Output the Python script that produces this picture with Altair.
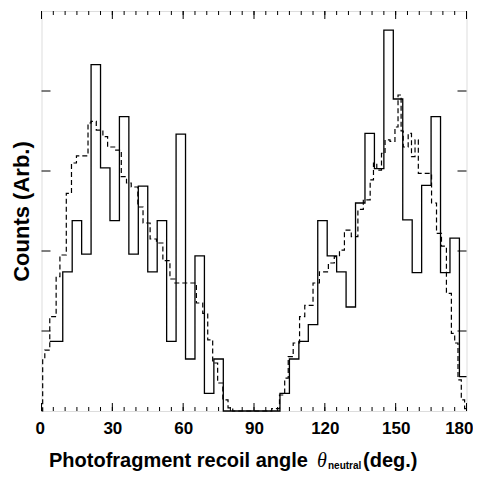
import altair as alt
import pandas as pd

# Solid histogram: left bin edges (deg) and heights (arb.)
solid_edges = [3.5, 9, 13, 17, 21, 25, 29, 33, 37, 41, 45, 49, 53, 57, 61, 65, 69, 73, 77,
               101, 105, 109, 113, 117, 121, 125, 129, 133, 137, 141, 145, 149, 153, 157,
               161, 165, 169, 173, 177, 180]
solid_vals = [0.87, 1.74, 2.38, 1.96, 4.33, 3.04, 2.38, 3.68, 1.96, 2.81, 1.74, 2.38, 0.87,
              3.46, 0.65, 1.94, 0.22, 0.65, 0.0,
              0.22, 0.65, 0.87, 1.08, 2.38, 1.94, 1.74, 1.30, 2.60, 3.47, 3.03, 4.76, 3.90,
              2.39, 1.73, 2.82, 3.68, 1.73, 2.16, 0.43, 0.43]

# Dashed (simulated) distribution: step starts (deg) and heights (arb.)
dash_x = [0.0, 0.5, 1.4, 3.5, 6.2, 7.8, 10.5, 12.7, 14.8, 19.7, 21.0, 23.2, 26.0, 28.0, 31.0,
          33.8, 36.0, 38.0, 40.8, 43.0, 46.0, 48.7, 51.4, 54.4, 56.5, 65.6, 68.3, 70.4, 72.5,
          74.6, 76.8, 79.0, 81.0, 97.5, 100.8, 103.0, 104.5, 106.6, 109.3, 111.5, 115.0,
          117.7, 121.5, 124.0, 126.2, 128.3, 131.2, 134.0, 136.3, 139.2, 140.6, 142.0, 144.0,
          145.5, 147.6, 149.7, 151.0, 152.3, 153.2, 155.3, 156.7, 158.2, 159.6, 165.2, 167.3,
          169.4, 171.5, 173.6, 175.0, 176.4, 177.8, 179.2, 180.0]
dash_y = [0.0, 0.64, 0.76, 1.18, 1.68, 1.95, 2.72, 3.10, 3.19, 3.60, 3.62, 3.51, 3.43, 3.30, 3.26,
          2.93, 2.85, 2.80, 2.55, 2.35, 2.15, 2.10, 1.88, 1.65, 1.60, 1.35, 1.22, 0.89, 0.60,
          0.35, 0.14, 0.04, 0.0, 0.03, 0.20, 0.41, 0.68, 0.85, 1.18, 1.32, 1.60,
          1.74, 1.85, 1.93, 2.01, 2.26, 2.18, 2.52, 2.64, 2.89, 3.10, 3.01, 3.22,
          3.39, 3.37, 3.55, 3.95, 3.50, 3.30, 3.47, 3.18, 3.39, 2.97, 2.60, 2.22,
          2.06, 1.47, 0.97, 0.85, 0.39, 0.14, 0.03, 0.03]

x_major = [0, 30, 60, 90, 120, 150, 180]
x_minor = list(range(0, 181, 5))
y_ticks = [1, 2, 3, 4]
x_title_parts = ["Photofragment recoil angle", "\u03b8", "neutral", "(deg.)"]
y_title = "Counts (Arb.)"

W, H = 425, 400
FONT = "Liberation Sans"
xs = alt.Scale(domain=[0, 180], nice=False, zero=False)
ys = alt.Scale(domain=[0, 5], nice=False)

solid = alt.Chart(pd.DataFrame({"angle": solid_edges, "counts": solid_vals})).mark_line(
    interpolate="step-after", color="black", strokeWidth=1.3
).encode(
    x=alt.X("angle:Q", scale=xs, axis=alt.Axis(
        values=x_major, title=None, grid=False, ticks=False, domain=False,
        labelFont=FONT, labelFontSize=17, labelFontWeight="bold", labelColor="black",
        labelBaseline="alphabetic", labelPadding=22.5, labelFlush=True,
        labelFlushOffset=6.5)),
    y=alt.Y("counts:Q", scale=ys, axis=alt.Axis(
        title=y_title, labels=False, ticks=False, domain=False, grid=False,
        titleFont=FONT, titleFontSize=22, titleFontWeight="bold", titleColor="black",
        titleAngle=270, titleX=-13.5, titleY=H / 2, titleBaseline="alphabetic",
        titleAlign="center")),
)

dashed = alt.Chart(pd.DataFrame({"angle": dash_x, "counts": dash_y})).mark_line(
    interpolate="step-after", color="black", strokeWidth=1.2, strokeDash=[5, 3]
).encode(
    x=alt.X("angle:Q", scale=xs),
    y=alt.Y("counts:Q", scale=ys),
)

major_df = pd.DataFrame({"t": x_major})
minor_df = pd.DataFrame({"t": x_minor})
ytick_df = pd.DataFrame({"v": y_ticks})

def xticks(df, y0, y1):
    return alt.Chart(df).mark_rule(color="black", strokeWidth=1).encode(
        x=alt.X("t:Q", scale=xs), y=alt.value(y0), y2=alt.value(y1))

def yticks(x0, x1):
    return alt.Chart(ytick_df).mark_rule(color="black", strokeWidth=1).encode(
        y=alt.Y("v:Q", scale=ys), x=alt.value(x0), x2=alt.value(x1))

ticks = [
    xticks(major_df, H, H - 8), xticks(minor_df, H, H - 4),
    xticks(major_df, 0, 8), xticks(minor_df, 0, 4),
    yticks(0, 9), yticks(W - 9, W),
]

def txt(s, x, y, size, italic=False, font=FONT, weight="bold"):
    return alt.Chart(pd.DataFrame({"s": [s]})).mark_text(
        align="left", baseline="alphabetic", fontSize=size, fontWeight=weight,
        fontStyle="italic" if italic else "normal", font=font, color="black"
    ).encode(text="s:N", x=alt.value(x), y=alt.value(y))

title_layers = [
    txt(x_title_parts[0], 7.5, H + 56, 20),
    txt(x_title_parts[1], 275.5, H + 56, 20, italic=True, font="Liberation Serif", weight="normal"),
    txt(x_title_parts[2], 286.5, H + 58, 10),
    txt(x_title_parts[3], 321.5, H + 56, 20),
]

chart = alt.layer(solid, dashed, *ticks, *title_layers).properties(
    width=W, height=H,
    autosize=alt.AutoSizeParams(type="none"),
    padding={"left": 33.5, "top": 3, "right": 6.5, "bottom": 60},
).configure_view(stroke="black", strokeWidth=1.5).configure(background="white")

chart.save("out.html", embed_options={"renderer": "svg", "actions": False})
